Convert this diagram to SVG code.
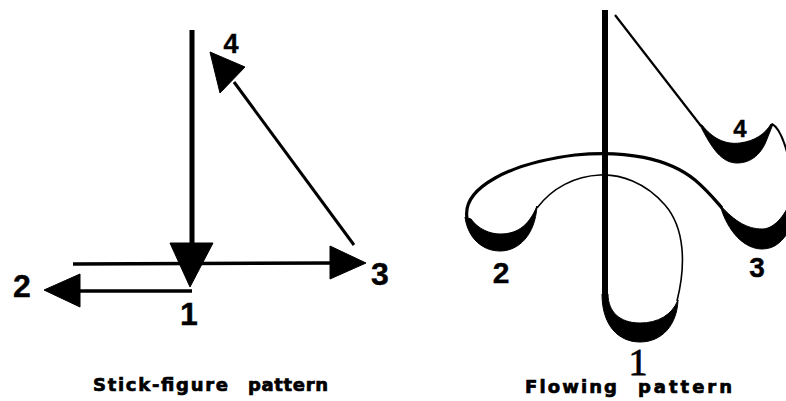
<svg xmlns="http://www.w3.org/2000/svg" width="786" height="401" viewBox="0 0 786 401">
<style>
.bg{fill:#fff}
.ln{fill:none;stroke:#000;stroke-linecap:butt;stroke-linejoin:round}
.head{fill:#000;stroke:#000;stroke-width:1;stroke-linejoin:round}
.cres{fill:#000;stroke:#000;stroke-width:1}
.num{font-family:"Liberation Sans",Arial,sans-serif;font-weight:bold;fill:#000;stroke:#000;stroke-width:0.4;text-anchor:middle}
.ser{font-family:"Liberation Serif","Times New Roman",serif;fill:#000;stroke:#000;stroke-width:0.8;text-anchor:middle}
.ttl{font-family:"DejaVu Sans","Liberation Sans",sans-serif;font-weight:bold;font-size:18px;fill:#000;stroke:#000;stroke-width:0.7}
</style>
<rect class="bg" x="0" y="0" width="786" height="401"/>

<g id="connectors">
  <!-- Stick-figure pattern -->
  <line class="ln" x1="192" y1="30" x2="192" y2="248" stroke-width="5"/>
  <polygon class="head" points="170,243 213,243 190,287"/>
  <line class="ln" x1="73" y1="264" x2="335" y2="263" stroke-width="3.5"/>
  <polygon class="head" points="330,246 330,279 366,263"/>
  <line class="ln" x1="192" y1="291" x2="78" y2="291" stroke-width="3.5"/>
  <polygon class="head" points="80,274 80,307 44,290"/>
  <line class="ln" x1="354" y1="245" x2="234" y2="82" stroke-width="3"/>
  <polygon class="head" points="210,52 245,67 220,93"/>

  <!-- Flowing pattern -->
  <line class="ln" x1="605" y1="10" x2="605" y2="296" stroke-width="6"/>
  <path class="cres" d="M602,294 C602,325 618,342 640,342 C662,342 677,325 678,300 C672,315 658,323 640,323 C620,323 608,312 608,294 Z"/>
  <path class="ln" stroke-width="1.6" d="M677,301 C686,265 685,228 665,205 C645,182 620,174 600,175 C575,176 552,188 537,208"/>
  <path class="cres" d="M537,206 C535,236 518,251 500,251 C483,251 468,239 465,217 L471,219 C478,229 490,234 500,234 C515,234 528,228 537,206 Z"/>
  <path class="ln" stroke-width="3.2" d="M467,218 C462,188 510,163 575,155 C625,150 668,158 695,180 C708,191 715,200 722,208"/>
  <path class="cres" d="M720,205 C728,233 745,249 762,249 C775,249 783,241 790,229 L790,203 C782,220 772,229 762,229 C748,229 735,222 720,205 Z"/>
  <line class="ln" x1="615" y1="15" x2="701" y2="126" stroke-width="2.2"/>
  <path class="cres" d="M700,125 C712,149 722,163 737,163 C752,163 762,153 767,139 L773,124 L771,124 C765,134 755,141 740,143 C725,145 712,138 702,125 Z"/>
  <path class="ln" stroke-width="2" d="M772,124 C778,127 783,138 787,152"/>
</g>

<g id="s1"><text class="num" x="189" y="325" font-size="32">1</text></g>
<g id="s2"><text class="num" x="22" y="297" font-size="32">2</text></g>
<g id="s3"><text class="num" x="380" y="285" font-size="32">3</text></g>
<g id="s4"><text class="num" x="231" y="53" font-size="27">4</text></g>

<g id="f1"><text class="ser" x="638" y="375" font-size="38">1</text></g>
<g id="f2"><text class="num" x="501" y="283" font-size="30">2</text></g>
<g id="f3"><text class="num" x="757" y="277" font-size="28">3</text></g>
<g id="f4"><text class="num" x="740" y="137" font-size="24">4</text></g>

<g id="title-stick">
  <text class="ttl" x="93" y="391" textLength="135" lengthAdjust="spacing">Stick-figure</text>
  <text class="ttl" x="248" y="391" textLength="80" lengthAdjust="spacing">pattern</text>
</g>
<g id="title-flow">
  <text class="ttl" x="525" y="393" textLength="92" lengthAdjust="spacing">Flowing</text>
  <text class="ttl" x="638" y="393" textLength="94" lengthAdjust="spacing">pattern</text>
</g>
</svg>
